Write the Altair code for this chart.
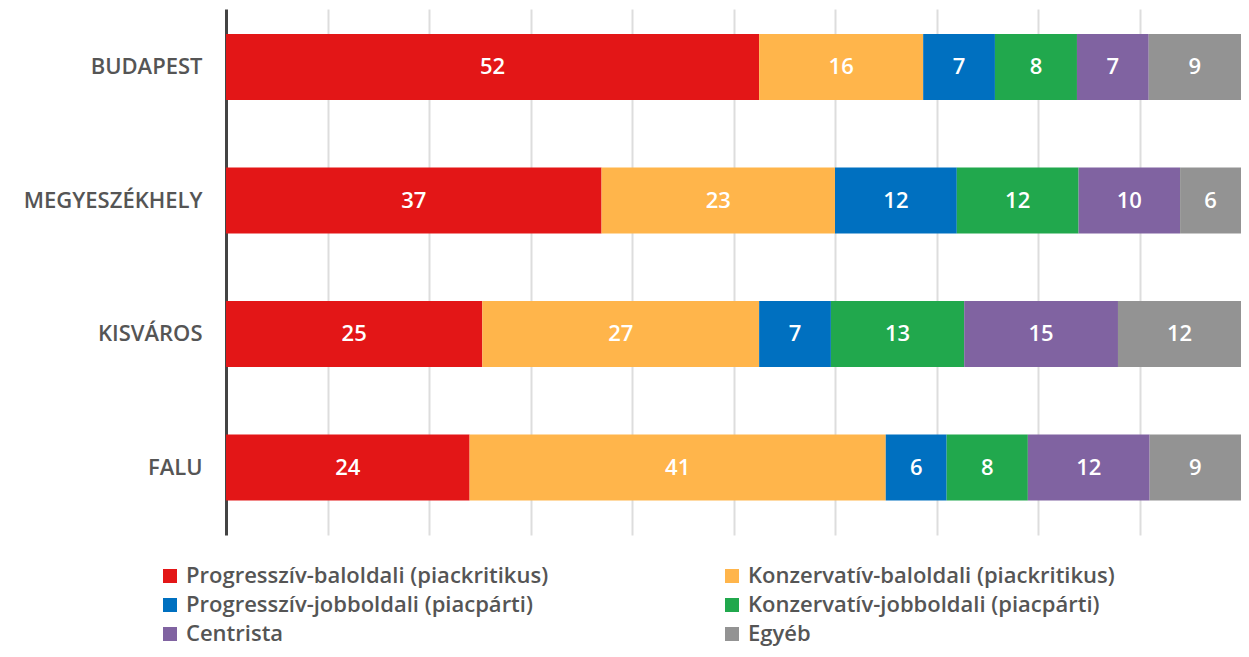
import altair as alt
import pandas as pd

locations = ["BUDAPEST", "MEGYESZÉKHELY", "KISVÁROS", "FALU"]
groups = [
    "Progresszív-baloldali (piackritikus)",
    "Konzervatív-baloldali (piackritikus)",
    "Progresszív-jobboldali (piacpárti)",
    "Konzervatív-jobboldali (piacpárti)",
    "Centrista",
    "Egyéb",
]
colors = ["#E31617", "#FFB54B", "#0070C0", "#21A84D", "#8063A1", "#939393"]

budapest = [52, 16, 7, 8, 7, 9]
megyeszekhely = [37, 23, 12, 12, 10, 6]
kisvaros = [25, 27, 7, 13, 15, 12]
falu = [24, 41, 6, 8, 12, 9]

rows = []
for loc, vals in zip(locations, [budapest, megyeszekhely, kisvaros, falu]):
    for i, (g, v) in enumerate(zip(groups, vals)):
        rows.append({"loc": loc, "group": g, "value": v, "order": i})
df = pd.DataFrame(rows)

FONT = "Open Sans"

base = alt.Chart(df).transform_stack(
    stack="value",
    groupby=["loc"],
    as_=["v0", "v1"],
    offset="normalize",
    sort=[alt.SortField("order", order="ascending")],
).transform_calculate(mid="(datum.v0 + datum.v1) / 2")

y_enc = alt.Y(
    "loc:N",
    sort=locations,
    title=None,
    scale=alt.Scale(paddingInner=0.5, paddingOuter=0.22, align=0.42),
    axis=alt.Axis(
        domain=True,
        domainColor="#444444",
        domainWidth=3,
        ticks=False,
        labelFont=FONT,
        labelFontSize=22,
        labelFontWeight=600,
        labelColor="#555555",
        labelPadding=24,
        grid=False,
    ),
)

bars = base.mark_bar(size=66).encode(
    x=alt.X(
        "v0:Q",
        scale=alt.Scale(domain=[0, 1], nice=False),
        title=None,
        axis=alt.Axis(
            values=[0.1, 0.2, 0.3, 0.4, 0.5, 0.6, 0.7, 0.8, 0.9],
            labels=False,
            ticks=False,
            domain=False,
            grid=True,
            gridColor="#dddddd",
            gridWidth=2,
        ),
    ),
    x2="v1:Q",
    y=y_enc,
    color=alt.Color(
        "group:N",
        sort=groups,
        scale=alt.Scale(domain=groups, range=colors),
        legend=alt.Legend(
            title=None,
            orient="none",
            legendX=-67,
            legendY=556,
            direction="horizontal",
            columns=2,
            columnPadding=172,
            rowPadding=7,
            symbolType="square",
            symbolSize=196,
            symbolStrokeWidth=0,
            symbolOpacity=1,
            labelFont=FONT,
            labelFontSize=22,
            labelFontWeight=600,
            labelColor="#555555",
            labelLimit=600,
            labelOffset=5,
        ),
    ),
    order=alt.Order("order:Q"),
)

labels = base.mark_text(
    color="white", font=FONT, fontSize=22, fontWeight=600, baseline="middle"
).encode(
    x=alt.X("mid:Q"),
    y=alt.Y("loc:N", sort=locations),
    text=alt.Text("value:Q"),
)

chart = (
    alt.layer(bars, labels)
    .properties(
        width=1015,
        height=526,
        autosize=alt.AutoSizeParams(type="none"),
        padding={"left": 218, "top": 1, "right": 0, "bottom": 114},
    )
    .configure_view(stroke=None)
)

chart.save("out.html", embed_options={"renderer": "svg", "actions": False})
